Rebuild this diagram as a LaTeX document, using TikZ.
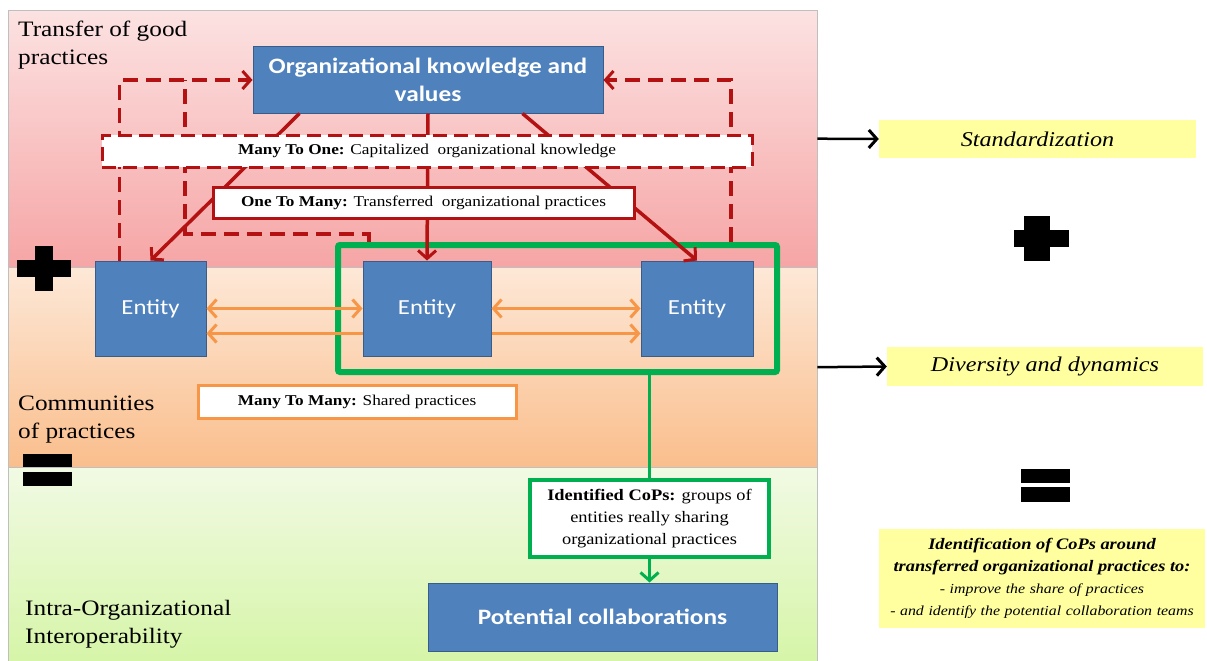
\documentclass[tikz,border=0pt]{standalone}
\usepackage{fontspec}
\setmainfont[FakeStretch=1.15]{Liberation Serif}
\newfontfamily\calfont[FakeStretch=1.15]{Carlito}
\usetikzlibrary{arrows.meta,calc}

\definecolor{boxblue}{RGB}{79,129,189}
\definecolor{boxedge}{RGB}{56,93,138}
\definecolor{cfred}{RGB}{180,18,18}
\definecolor{cforange}{RGB}{247,150,70}
\definecolor{cfgreen}{RGB}{0,176,80}
\definecolor{cfyellow}{RGB}{255,255,160}
\definecolor{pinkA}{RGB}{252,226,226}
\definecolor{pinkB}{RGB}{246,165,165}
\definecolor{peachA}{RGB}{253,232,215}
\definecolor{peachB}{RGB}{250,190,140}
\definecolor{greenA}{RGB}{241,250,228}
\definecolor{greenB}{RGB}{214,245,168}

\begin{document}
\begin{tikzpicture}[x=1pt, y=-1pt,
        band/.style={rectangle, draw=black!25, anchor=north west, inner sep=0pt, minimum width=809pt},
        bandlabel/.style={anchor=north west, inner sep=0pt, align=left, font=\fontsize{22}{28}\selectfont},
        bluebox/.style={rectangle, draw=boxedge, line width=1pt, fill=boxblue, text=white, align=center, inner sep=0pt, font=\calfont\bfseries\fontsize{22}{28}\selectfont},
        entity/.style={bluebox, minimum height=95pt, font=\calfont\fontsize{21.5}{26}\selectfont},
        tagbox/.style={rectangle, fill=white, line width=3pt, inner sep=0pt, align=center, font=\fontsize{15}{18}\selectfont},
        ybox/.style={rectangle, fill=cfyellow, inner sep=0pt, align=center, font=\itshape\fontsize{21}{24}\selectfont},
        barb/.tip={Straight Barb[length=8pt, width=18pt, line width=3pt]},
        redarrow/.style={draw=cfred, line width=3.5pt, -barb},
        dashline/.style={draw=cfred, line width=3.5pt, dash pattern=on 15pt off 8pt},
        orarrow/.style={draw=cforange, line width=3.5pt},
        greenline/.style={draw=cfgreen, line width=3.5pt},
        blackarrow/.style={draw=black, line width=2.5pt, -barb}]

    \useasboundingbox (0,0) rectangle (1207,661);

    % the three layers
    \node[band, top color=pinkA, bottom color=pinkB, minimum height=257pt] (tgp) at (8,10) {};
    \node[band, top color=peachA, bottom color=peachB, minimum height=200pt] (cpband) at (8,267) {};
    \node[band, top color=greenA, bottom color=greenB, minimum height=194pt] (iop) at (8,467) {};

    \node[bandlabel] (tgplabel) at (18,21) {Transfer of good\\practices};
    \node[bandlabel] (cplabel) at (18,396) {Communities\\of practices};
    \node[bandlabel] (ioplabel) at (25,600) {Intra-Organizational\\Interoperability};

    % plus and equals
    \fill (35,246) rectangle (53,291);
    \fill (17,260) rectangle (71,277);
    \fill (23,454) rectangle (72,467);
    \fill (23,472) rectangle (72,486);

    % nodes
    \node[bluebox, minimum width=350pt, minimum height=66pt] (know) at (428,80) {Organizational knowledge and\\values};
    \node[entity, minimum width=111pt] (ent1) at (150.5,308.5) {Entity};
    \node[entity, minimum width=128pt] (ent2) at (427,308.5) {Entity};
    \node[entity, minimum width=112pt] (ent3) at (697,308.5) {Entity};
    \node[draw=cfgreen, line width=6pt, rounded corners=2pt, inner sep=0pt, minimum width=439pt, minimum height=127pt] (cofp) at (557.5,308.5) {};

    % capitalization loops
    \coordinate (dj) at (185,80);
    \draw[dashline, -barb] ($(ent1.north west)+(25,0)$) |- (know.west);
    \draw[dashline] ($(cofp.north west)+(34,0)$) -- ++(0,-8) -| (dj);
    \draw[dashline, -barb] ($(cofp.north east)+(-49,0)$) |- (know.east);

    % transfer
    \draw[redarrow] ($(know.south west)+(47,0)$) -- (ent1.north);
    \draw[redarrow] (know.south) -- (ent2.north);
    \draw[redarrow] ($(know.south east)+(-81,0)$) -- (ent3.north);

    \node[tagbox, draw=cfred, dash pattern=on 14pt off 7pt, minimum width=650pt, minimum height=32pt] (manyone) at (427,151) {\textbf{Many To One:} Capitalized\ \ organizational knowledge};
    \node[tagbox, draw=cfred, minimum width=421pt, minimum height=31pt] (onemany) at (423.5,202.5) {\textbf{One To Many:} Transferred\ \ organizational practices};

    % sharing
    \draw[orarrow, barb-barb] (ent1.east) -- (ent2.west);
    \draw[orarrow, barb-] ($(ent1.east)+(0,25)$) -- ($(ent2.west)+(0,25)$);
    \draw[orarrow, barb-barb] (ent2.east) -- (ent3.west);
    \draw[orarrow, -barb] ($(ent2.east)+(0,25)$) -- ($(ent3.west)+(0,25)$);

    \node[tagbox, draw=cforange, minimum width=318pt, minimum height=33pt] (manymany) at (357,401.5) {\textbf{Many To Many:} Shared practices};

    % identified communities
    \node[tagbox, draw=cfgreen, line width=3.5pt, minimum width=239pt, minimum height=77pt, font=\fontsize{16}{22}\selectfont] (cops) at (649.5,518.5) {\textbf{Identified CoPs:} groups of\\entities really sharing\\organizational practices};
    \node[bluebox, minimum width=349pt, minimum height=68pt] (collab) at (602.5,617) {Potential collaborations};
    \draw[greenline] (cofp.south -| cops.north) -- (cops.north);
    \draw[greenline, -barb] (cops.south) -- (cops.south |- collab.north);

    % outcomes
    \node[ybox, minimum width=317pt, minimum height=38pt] (std) at (1037.5,139) {Standardization};
    \node[ybox, minimum width=316pt, minimum height=39pt] (div) at (1045,366.5) {Diversity and dynamics};
    \node[ybox, text width=326pt, minimum height=99pt, font=\itshape\fontsize{13.8}{22}\selectfont] (ident) at (1042,578.5) {{\bfseries\fontsize{16}{22}\selectfont Identification of CoPs around}\\{\bfseries\fontsize{16}{22}\selectfont transferred organizational practices to:}\\- improve the share of practices\\- and identify the potential collaboration teams};
    \draw[blackarrow] (tgp.east) -- (std.west);
    \draw[blackarrow] (cpband.east) -- (div.west);

    \fill (1024,216) rectangle (1050,261);
    \fill (1014,230) rectangle (1069,247);
    \fill (1021,469) rectangle (1070,483);
    \fill (1021,487) rectangle (1070,502);
\end{tikzpicture}
\end{document}
